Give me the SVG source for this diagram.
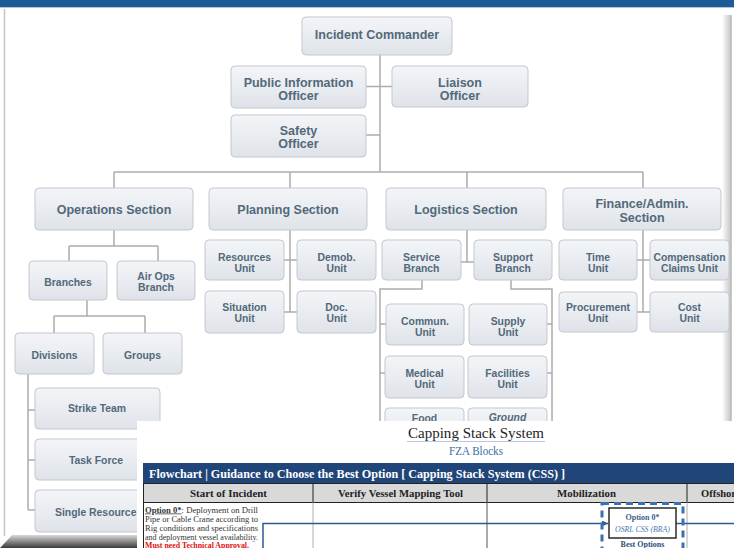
<svg xmlns="http://www.w3.org/2000/svg" width="734" height="548" viewBox="0 0 734 548">
<defs>
<linearGradient id="bg" x1="0" y1="0" x2="0" y2="1"><stop offset="0" stop-color="#f3f5f8"/><stop offset="1" stop-color="#dfe3e9"/></linearGradient>
<linearGradient id="shd" x1="0" y1="0" x2="0" y2="1"><stop offset="0" stop-color="#d8d8d8"/><stop offset="1" stop-color="#3a3a3a"/></linearGradient>
<linearGradient id="rsh" x1="0" y1="0" x2="1" y2="0"><stop offset="0" stop-color="#ffffff"/><stop offset="1" stop-color="#c4c4c4"/></linearGradient>
<clipPath id="top"><rect x="0" y="0" width="734" height="421"/></clipPath>
<marker id="ar" viewBox="0 0 6 6" refX="6" refY="3" markerWidth="6" markerHeight="6" orient="auto" markerUnits="userSpaceOnUse"><path d="M0,0 L6,3 L0,6 z" fill="#2d5b8e"/></marker>
<style>
.n{fill:url(#bg);stroke:#c3c8cf;stroke-width:1}
.t{font-family:"Liberation Sans",Arial,sans-serif;font-weight:bold;fill:#52697a;text-anchor:middle}
.h{font-size:12.5px}
.u{font-size:10.4px}
.c{fill:none;stroke:#acacac;stroke-width:1.5}
.s{font-family:"Liberation Serif","Times New Roman",serif}
.hd{font-family:"Liberation Serif","Times New Roman",serif;font-weight:bold;font-size:10.5px;fill:#222;text-anchor:middle}
.bt{font-family:"Liberation Serif","Times New Roman",serif;font-size:7.6px;fill:#333}
</style>
</defs>
<rect width="734" height="548" fill="#ffffff"/>
<!-- frame -->
<rect x="0" y="0" width="734" height="7" fill="#1b5b98"/>
<line x1="0" y1="7.5" x2="734" y2="7.5" stroke="#b9c3ce" stroke-width="1"/>
<line x1="4.5" y1="9" x2="4.5" y2="536" stroke="#c6c6c6" stroke-width="1.5"/>
<rect x="722" y="15" width="9" height="406" fill="url(#rsh)"/>
<line x1="731" y1="15" x2="731" y2="421" stroke="#b8b8b8" stroke-width="1.5"/>
<polygon points="12,535 137,535 137,548 0,548" fill="url(#shd)"/>

<!-- org connectors -->
<g id="org-connectors" class="c">
<path d="M380,55 V172"/>
<path d="M366,86.5 H392"/>
<path d="M366,135 H380"/>
<path d="M114,172 H643"/>
<path d="M114,172 V188 M290,172 V188 M467,172 V188 M643,172 V188"/>
<path d="M114,230 V246 M69,246 H158 M69,246 V261 M158,246 V261"/>
<path d="M87,300 V316 M54,316 H145 M54,316 V333 M145,316 V333"/>
<path d="M28,374 V510 M28,410 H35 M28,460 H35 M28,510 H35"/>
<path d="M290,230 V312 M284,260 H297 M284,312 H297"/>
<path d="M467,230 V262 M461,262 H474"/>
<path d="M422,280 V289 H380 V440 M380,324 H386 M380,373 H385"/>
<path d="M511,280 V289 H552 V440 M547,324 H552 M547,373 H552"/>
<path d="M643,230 V312 M637,260 H650 M637,312 H650"/>
</g>

<!-- org nodes -->
<g id="incident-commander"><rect class="n" x="302" y="17" width="150" height="38" rx="4"/><text class="t h" x="377" y="39">Incident Commander</text></g>
<g id="public-information-officer"><rect class="n" x="231" y="66" width="135" height="42" rx="4"/><text class="t h" x="298.5" y="86.5">Public Information</text><text class="t h" x="298.5" y="99.5">Officer</text></g>
<g id="liaison-officer"><rect class="n" x="392" y="66" width="136" height="41" rx="4"/><text class="t h" x="460" y="86.5">Liaison</text><text class="t h" x="460" y="99.5">Officer</text></g>
<g id="safety-officer"><rect class="n" x="231" y="115" width="135" height="42" rx="4"/><text class="t h" x="298.5" y="135">Safety</text><text class="t h" x="298.5" y="148">Officer</text></g>

<g id="operations-section"><rect class="n" x="35" y="188" width="158" height="42" rx="4"/><text class="t h" x="114" y="213.5">Operations Section</text></g>
<g id="planning-section"><rect class="n" x="209" y="188" width="158" height="42" rx="4"/><text class="t h" x="288" y="213.5">Planning Section</text></g>
<g id="logistics-section"><rect class="n" x="386" y="188" width="160" height="42" rx="4"/><text class="t h" x="466" y="213.5">Logistics Section</text></g>
<g id="finance-admin-section"><rect class="n" x="563" y="188" width="158" height="42" rx="4"/><text class="t h" x="642" y="208">Finance/Admin.</text><text class="t h" x="642" y="221.5">Section</text></g>

<g id="branches"><rect class="n" x="29" y="261" width="78" height="39" rx="4"/><text class="t u" x="68" y="285.5">Branches</text></g>
<g id="air-ops-branch"><rect class="n" x="117" y="261" width="78" height="39" rx="4"/><text class="t u" x="156" y="279.5">Air Ops</text><text class="t u" x="156" y="290.5">Branch</text></g>
<g id="divisions"><rect class="n" x="15" y="333" width="79" height="41" rx="4"/><text class="t u" x="54.5" y="359">Divisions</text></g>
<g id="groups"><rect class="n" x="103" y="333" width="79" height="41" rx="4"/><text class="t u" x="142.5" y="359">Groups</text></g>
<g id="strike-team"><rect class="n" x="35" y="388" width="125" height="41" rx="4"/><text class="t u" x="97" y="412">Strike Team</text></g>
<g id="task-force"><rect class="n" x="35" y="439" width="123" height="41" rx="4"/><text class="t u" x="96" y="464">Task Force</text></g>
<g id="single-resource"><rect class="n" x="35" y="490" width="124" height="42" rx="4"/><text class="t u" x="55" y="516" style="text-anchor:start">Single Resource</text></g>

<g id="resources-unit"><rect class="n" x="205" y="240" width="79" height="40" rx="4"/><text class="t u" x="244.5" y="260.5">Resources</text><text class="t u" x="244.5" y="271.5">Unit</text></g>
<g id="demob-unit"><rect class="n" x="297" y="240" width="79" height="40" rx="4"/><text class="t u" x="336.5" y="260.5">Demob.</text><text class="t u" x="336.5" y="271.5">Unit</text></g>
<g id="situation-unit"><rect class="n" x="205" y="291" width="79" height="42" rx="4"/><text class="t u" x="244.5" y="310.5">Situation</text><text class="t u" x="244.5" y="321.5">Unit</text></g>
<g id="doc-unit"><rect class="n" x="297" y="291" width="79" height="42" rx="4"/><text class="t u" x="336.5" y="310.5">Doc.</text><text class="t u" x="336.5" y="321.5">Unit</text></g>

<g id="service-branch"><rect class="n" x="382" y="240" width="79" height="40" rx="4"/><text class="t u" x="421.5" y="260.5">Service</text><text class="t u" x="421.5" y="271.5">Branch</text></g>
<g id="support-branch"><rect class="n" x="474" y="240" width="78" height="40" rx="4"/><text class="t u" x="513" y="260.5">Support</text><text class="t u" x="513" y="271.5">Branch</text></g>
<g id="commun-unit"><rect class="n" x="386" y="304" width="78" height="41" rx="4"/><text class="t u" x="425" y="324.5">Commun.</text><text class="t u" x="425" y="335.5">Unit</text></g>
<g id="supply-unit"><rect class="n" x="469" y="304" width="78" height="41" rx="4"/><text class="t u" x="508" y="324.5">Supply</text><text class="t u" x="508" y="335.5">Unit</text></g>
<g id="medical-unit"><rect class="n" x="385" y="356" width="79" height="42" rx="4"/><text class="t u" x="424.5" y="376.5">Medical</text><text class="t u" x="424.5" y="387.5">Unit</text></g>
<g id="facilities-unit"><rect class="n" x="468" y="356" width="79" height="42" rx="4"/><text class="t u" x="507.5" y="376.5">Facilities</text><text class="t u" x="507.5" y="387.5">Unit</text></g>
<g id="food-unit" clip-path="url(#top)"><rect class="n" x="385" y="408" width="79" height="42" rx="4"/><text class="t u" x="424.5" y="422" font-size="9.5">Food</text></g>
<g id="ground-support-unit" clip-path="url(#top)"><rect class="n" x="468" y="408" width="79" height="42" rx="4"/><text class="t u" x="507.5" y="421" font-style="italic">Ground</text></g>

<g id="time-unit"><rect class="n" x="559" y="240" width="78" height="40" rx="4"/><text class="t u" x="598" y="260.5">Time</text><text class="t u" x="598" y="271.5">Unit</text></g>
<g id="compensation-claims-unit"><rect class="n" x="650" y="240" width="79" height="40" rx="4"/><text class="t u" x="689.5" y="260.5">Compensation</text><text class="t u" x="689.5" y="271.5">Claims Unit</text></g>
<g id="procurement-unit"><rect class="n" x="559" y="292" width="78" height="40" rx="4"/><text class="t u" x="598" y="310.5">Procurement</text><text class="t u" x="598" y="321.5">Unit</text></g>
<g id="cost-unit"><rect class="n" x="650" y="292" width="79" height="40" rx="4"/><text class="t u" x="689.5" y="310.5">Cost</text><text class="t u" x="689.5" y="321.5">Unit</text></g>

<!-- overlay screenshot area -->
<rect x="137" y="421" width="597" height="127" fill="#ffffff"/>

<g id="capping-title">
<text class="s" x="476" y="438" font-size="15.5" fill="#1e1e1e" text-anchor="middle" textLength="136" lengthAdjust="spacingAndGlyphs">Capping Stack System</text>
<line x1="407" y1="441.5" x2="545" y2="441.5" stroke="#b6c8de" stroke-width="1"/>
<text class="s" x="476" y="455" font-size="11.5" fill="#3b6ea5" text-anchor="middle" textLength="54" lengthAdjust="spacingAndGlyphs">FZA Blocks</text>
</g>

<g id="flowchart-table">
<rect x="143" y="463" width="591" height="20" fill="#1f4579"/>
<text class="s" x="149" y="477.5" font-size="13" font-weight="bold" fill="#ffffff" textLength="416" lengthAdjust="spacingAndGlyphs">Flowchart | Guidance to Choose the Best Option [ Capping Stack System (CSS) ]</text>
<rect x="143.5" y="483.5" width="592" height="19" fill="#d9d9d9" stroke="#222" stroke-width="1"/>
<line x1="313" y1="483" x2="313" y2="502" stroke="#222" stroke-width="1"/>
<line x1="487" y1="483" x2="487" y2="502" stroke="#222" stroke-width="1"/>
<line x1="687" y1="483" x2="687" y2="502" stroke="#222" stroke-width="1"/>
<line x1="143.5" y1="502" x2="143.5" y2="548" stroke="#222" stroke-width="1"/>
<line x1="313" y1="502" x2="313" y2="548" stroke="#9a9a9a" stroke-width="0.8"/>
<line x1="487" y1="502" x2="487" y2="548" stroke="#555" stroke-width="1"/>
<line x1="687" y1="502" x2="687" y2="548" stroke="#9a9a9a" stroke-width="0.8"/>
<text class="hd" x="228.5" y="496.5" textLength="77" lengthAdjust="spacingAndGlyphs">Start of Incident</text>
<text class="hd" x="400.5" y="496.5" textLength="125" lengthAdjust="spacingAndGlyphs">Verify Vessel Mapping Tool</text>
<text class="hd" x="586.5" y="496.5" textLength="59" lengthAdjust="spacingAndGlyphs">Mobilization</text>
<text class="hd" x="701" y="496.5" style="text-anchor:start">Offshor</text>
</g>

<g id="option0-text">
<text class="bt" x="145" y="512.5" textLength="113" lengthAdjust="spacingAndGlyphs"><tspan font-weight="bold" text-decoration="underline">Option 0*</tspan>: Deployment on Drill</text>
<text class="bt" x="145" y="521.5" textLength="113" lengthAdjust="spacingAndGlyphs">Pipe or Cable Crane according to</text>
<text class="bt" x="145" y="530.5" textLength="113" lengthAdjust="spacingAndGlyphs">Rig conditions and specifications</text>
<text class="bt" x="145" y="539.5" textLength="113" lengthAdjust="spacingAndGlyphs">and deployment vessel availability.</text>
<text class="bt" x="145" y="547.5" font-weight="bold" text-decoration="underline" textLength="104" lengthAdjust="spacingAndGlyphs" style="fill:#e01010">Must need Technical Approval.</text>
</g>

<g id="flow-connectors" fill="none" stroke="#2d5b8e" stroke-width="1.5">
<path d="M263,548 V523.5 H608" marker-end="url(#ar)"/>
<path d="M676,523.5 H734"/>
</g>

<g id="best-options">
<rect x="602" y="503.5" width="81" height="52" fill="none" stroke="#3a72b0" stroke-width="3" stroke-dasharray="7,5"/>
<text class="s" x="642.5" y="547" font-size="8" font-weight="bold" fill="#2d5080" text-anchor="middle">Best Options</text>
</g>
<g id="option0-box">
<rect x="609" y="508" width="67" height="30" fill="#ffffff" stroke="#2a2a2a" stroke-width="1.5"/>
<text class="s" x="642.5" y="520" font-size="8" font-weight="bold" fill="#3c5f8a" text-anchor="middle">Option 0*</text>
<text class="s" x="642.5" y="532" font-size="7.8" font-style="italic" fill="#4a78b0" text-anchor="middle">OSRL CSS (BRA)</text>
</g>
</svg>
